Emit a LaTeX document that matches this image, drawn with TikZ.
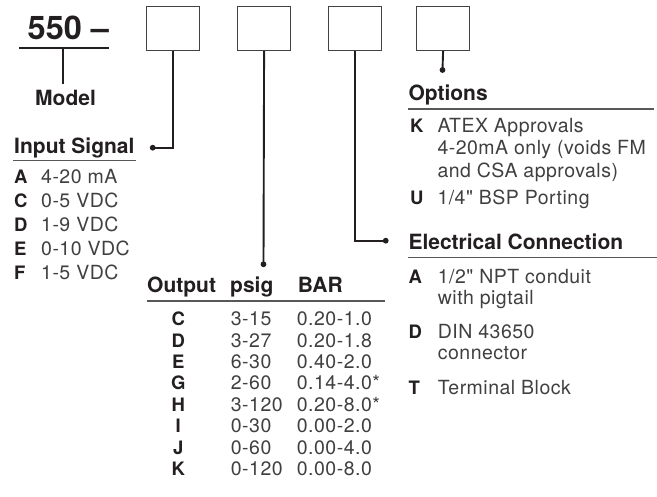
\documentclass[tikz,border=0pt]{standalone}
\usepackage{fontspec}
\setmainfont{TeX Gyre Heros}
\newfontfamily\bodyfont[LetterSpace=2.5]{TeX Gyre Heros}
\definecolor{ink}{HTML}{231F20}
\definecolor{bodyc}{HTML}{404040}
\tikzset{
  hd/.style={anchor=base west, inner sep=0, font=\fontsize{21}{21}\selectfont\bfseries, text=ink},
  key/.style={anchor=base west, inner sep=0, font=\fontsize{18.5}{18.5}\selectfont\bfseries, text=ink},
  keyc/.style={key, anchor=base},
  val/.style={anchor=base west, inner sep=0, font=\bodyfont\fontsize{19.5}{19.5}\selectfont, text=bodyc},
  codebox/.style={draw=ink!85, line width=1.2pt, minimum width=53pt, minimum height=44.3pt, inner sep=0, anchor=north west},
  lead/.style={draw=ink, line width=1.9pt},
  hrule/.style={draw=ink!75, line width=1.5pt},
  dotend/.style={circle, fill=ink, inner sep=0, minimum size=5.8pt},
}
\begin{document}
\begin{tikzpicture}[x=1pt,y=-1pt]
\useasboundingbox (0,0) rectangle (657,497);
% model
\node[anchor=base west, inner sep=0, font=\fontsize{32.5}{32.5}\selectfont\bfseries, text=ink] (num) at (27.5,39.3) {550 –};
\draw[lead] (19,47.7) -- (109,47.7);
\coordinate (m1) at (63.3,47.7);
\coordinate (m2) at (63.3,84);
\draw[lead] (m1) -- (m2);
\node[hd] (model) at (35,106) {Model};
% boxes
\node[codebox] (b1) at (145.7,5.7) {};
\node[codebox] (b2) at (237,5.7) {};
\node[codebox] (b3) at (327.8,5.7) {};
\node[codebox] (b4) at (416,5.7) {};
% dots
\node[dotend] (d1) at (152.7,147.7) {};
\node[dotend] (d2) at (263.5,264.3) {};
\node[dotend] (d3) at (385.7,240.7) {};
\node[dotend] (d4) at (442.5,70) {};
\draw[lead] (b1.south) |- (d1.center);
\draw[lead] (b2.south) -- (d2.center);
\draw[lead] (b3.south) |- (d3.center);
\draw[lead] (b4.south) -- (d4.center);
% input signal
\node[hd] (ins) at (14,153.3) {Input Signal};
\draw[hrule] (13.3,160.3) -- (136,160.3);
\foreach \k/\v [count=\i from 0] in {A/4-20 mA, C/0-5 VDC, D/1-9 VDC, E/0-10 VDC, F/1-5 VDC}{
  \node[key] (ik\i) at (14,184+23.8*\i) {\k};
  \node[val] (iv\i) at (41,184+23.8*\i) {\v};
}
% output table
\node[hd] (oh) at (147,292.7) {Output};
\node[hd] (ph) at (230,292.7) {psig};
\node[hd] (bh) at (297.7,292.7) {BAR};
\draw[hrule] (146.7,301) -- (385,301);
\foreach \k/\p/\b [count=\i from 0] in {C/3-15/0.20-1.0, D/3-27/0.20-1.8, E/6-30/0.40-2.0, G/2-60/0.14-4.0*, H/3-120/0.20-8.0*, I/0-30/0.00-2.0, J/0-60/0.00-4.0, K/0-120/0.00-8.0}{
  \node[keyc] (ok\i) at (178.3,325.7+21.4*\i) {\k};
  \node[val] (op\i) at (230.7,325.7+21.4*\i) {\p};
  \node[val] (ob\i) at (296.7,325.7+21.4*\i) {\b};
}
% options
\node[hd] (opt) at (408.3,100.7) {Options};
\draw[hrule] (408,109) -- (654,109);
\node[key] (optk) at (410,132.3) {K};
\node[val] (optk1) at (437.3,132.3) {ATEX Approvals};
\node[val] (optk2) at (437.3,155) {4-20mA only (voids FM};
\node[val] (optk3) at (437.3,177.7) {and CSA approvals)};
\node[key] (optu) at (410,205) {U};
\node[val] (optu1) at (437.3,205) {1/4" BSP Porting};
% electrical connection
\node[hd] (ec) at (408.3,249.3) {Electrical Connection};
\draw[hrule] (408,257.3) -- (657,257.3);
\node[key] (eca) at (408.3,283.3) {A};
\node[val] (eca1) at (437.7,283.3) {1/2" NPT conduit};
\node[val] (eca2) at (437.7,305) {with pigtail};
\node[key] (ecd) at (408.3,339) {D};
\node[val] (ecd1) at (437.7,339) {DIN 43650};
\node[val] (ecd2) at (437.7,360) {connector};
\node[key] (ect) at (408.3,394.3) {T};
\node[val] (ect1) at (437.7,394.3) {Terminal Block};
\end{tikzpicture}
\end{document}
